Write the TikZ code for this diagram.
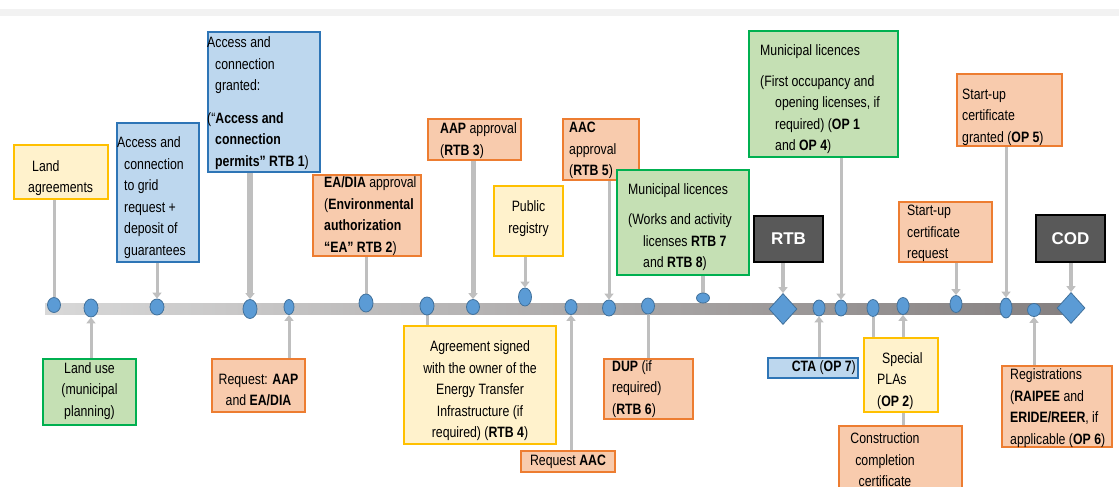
\documentclass[tikz,border=0pt]{standalone}
\usepackage{fontspec}
\setmainfont{Liberation Sans}[FakeStretch=0.82]
\newfontfamily\widefont{Liberation Sans}
\usetikzlibrary{shapes.geometric,arrows.meta}
\definecolor{yfill}{HTML}{FFF2CC}\definecolor{ydraw}{HTML}{FFC000}
\definecolor{bfill}{HTML}{BDD7EE}\definecolor{bdraw}{HTML}{2E75B6}
\definecolor{ofill}{HTML}{F8CBAD}\definecolor{odraw}{HTML}{ED7D31}
\definecolor{gfill}{HTML}{C5E0B4}\definecolor{gdraw}{HTML}{00B050}
\definecolor{dfill}{HTML}{595959}
\definecolor{mkf}{HTML}{5B9BD5}\definecolor{mkd}{HTML}{41719C}
\definecolor{barL}{HTML}{D8D8D8}\definecolor{barR}{HTML}{858080}
\definecolor{cgray}{HTML}{BFBFBF}
\pgfdeclarelayer{bg}
\pgfsetlayers{bg,main}
\begin{document}
\begin{tikzpicture}[x=1pt,y=-1pt,
  bx/.style={rectangle, line width=2.4pt, inner sep=0pt},
  yel/.style={bx, draw=ydraw, fill=yfill},
  blu/.style={bx, draw=bdraw, fill=bfill},
  ora/.style={bx, draw=odraw, fill=ofill},
  grn/.style={bx, draw=gdraw, fill=gfill},
  wh/.style 2 args={minimum width=#1pt, minimum height=#2pt},
  txt/.style={inner sep=0pt, text=black, font=\fontsize{15}{21.5}\selectfont},
  tl/.style={txt, anchor=west, align=left},
  tc/.style={txt, anchor=center, align=center},
  dark/.style={rectangle, draw=black, line width=2.4pt, fill=dfill, text=white,
               font=\widefont\bfseries\fontsize{17}{20}\selectfont},
  mk/.style 2 args={ellipse, draw=mkd, fill=mkf, line width=0.8pt, inner sep=0pt,
               minimum width=#1pt, minimum height=#2pt},
  dm/.style={diamond, draw=mkd, fill=mkf, line width=0.8pt, inner sep=0pt,
             minimum width=28pt, minimum height=31pt},
  conn/.style={draw=cgray, line width=3pt},
  arr/.style={-{Triangle[width=9pt,length=6pt]}}]
\useasboundingbox (0,0) rectangle (1119,487);
\clip (0,0) rectangle (1119,487);
\begin{pgfonlayer}{bg}
\fill[white] (0,0) rectangle (1119,487);
\fill[gray!10] (0,9) rectangle (1119,16);
\shade[left color=barL, right color=barR] (45,303) rectangle (1072,314);
\end{pgfonlayer}

% markers on the timeline
\node[mk={13}{15}] (c1) at (54,305) {};
\node[mk={14}{18}] (c2) at (91,308) {};
\node[mk={14}{16}] (c3) at (157,307) {};
\node[mk={14}{19}] (c4) at (250,309) {};
\node[mk={10}{15}] (c5) at (289,307) {};
\node[mk={14}{18}] (c6) at (366,303) {};
\node[mk={14}{18}] (c7) at (427,306) {};
\node[mk={13}{15}] (c8) at (473,307) {};
\node[mk={13}{18}] (c9) at (525,297) {};
\node[mk={12}{15}] (c10) at (571,307) {};
\node[mk={13}{16}] (c11) at (609,308) {};
\node[mk={13}{16}] (c12) at (648,306) {};
\node[mk={13}{10}] (c13) at (703,298) {};
\node[dm] (d1) at (783,309) {};
\node[mk={12}{16}] (c14) at (819,308) {};
\node[mk={12}{16}] (c15) at (841,308) {};
\node[mk={12}{17}] (c16) at (873,308) {};
\node[mk={12}{17}] (c17) at (903,306) {};
\node[mk={12}{17}] (c18) at (956,304) {};
\node[mk={12}{20}] (c19) at (1006,308) {};
\node[mk={13}{13}] (c20) at (1034,310) {};
\node[dm] (d2) at (1071,308) {};

% boxes above
\node[yel, wh={93.6}{53.6}] (landagr) at (61,172) {};
\node[tl] (landagr-t) at (28,178) {\hspace*{4pt}Land\\agreements};
\node[blu, wh={81.6}{138.6}] (accreq) at (158,192.5) {};
\node[tl] (accreq-t) at (117,197.5) {Access and\\\hspace*{7pt}connection\\\hspace*{7pt}to grid\\\hspace*{7pt}request +\\\hspace*{7pt}deposit of\\\hspace*{7pt}guarantees};
\node[blu, wh={111.6}{139.6}] (accgr) at (264,102) {};
\node[tl] (accgr-t) at (207,103) {Access and\\\hspace*{8pt}connection\\\hspace*{8pt}granted:\\[11pt](“\textbf{Access and}\\\hspace*{8pt}\textbf{connection}\\\hspace*{8pt}\textbf{permits”} \textbf{RTB 1})};
\node[ora, wh={107.6}{80.6}] (eadia) at (367,215.5) {};
\node[tl] (eadia-t) at (324,216) {\textbf{EA/DIA} approval\\(\textbf{Environmental}\\\textbf{authorization}\\\textbf{“EA” RTB 2})};
\node[ora, wh={92.6}{40.6}] (aap) at (474.5,139.5) {};
\node[tl] (aap-t) at (440,140.5) {\textbf{AAP} approval\\(\textbf{RTB 3})};
\node[yel, wh={68.6}{69.6}] (pubreg) at (528.5,221) {};
\node[tc] (pubreg-t) at (528.5,218.5) {Public\\registry};
\node[ora, wh={75.6}{60.6}] (aac) at (601,149.5) {};
\node[tl] (aac-t) at (569,150.5) {\textbf{AAC}\\approval\\(\textbf{RTB 5})};
\node[grn, wh={131.6}{104.6}] (munw) at (683,222.5) {};
\node[tl] (munw-t) at (628,227) {Municipal licences\\[9pt](Works and activity\\\hspace*{15pt}licenses \textbf{RTB 7}\\\hspace*{15pt}and \textbf{RTB 8})};
\node[dark, minimum width=69pt, minimum height=46pt] (rtb) at (788.5,239) {RTB};
\node[grn, wh={148.6}{125.6}] (munf) at (823.5,94) {};
\node[tl] (munf-t) at (760,99.5) {Municipal licences\\[9pt](First occupancy and\\\hspace*{15pt}opening licenses, if\\\hspace*{15pt}required) (\textbf{OP 1}\\\hspace*{15pt}and \textbf{OP 4})};
\node[ora, wh={92.6}{59.6}] (sureq) at (945.5,232) {};
\node[tl] (sureq-t) at (907,233.5) {Start-up\\certificate\\request};
\node[ora, wh={104.6}{71.6}] (sugr) at (1009.5,110) {};
\node[tl] (sugr-t) at (962,117) {Start-up\\certificate\\granted (\textbf{OP 5})};
\node[dark, minimum width=69pt, minimum height=47pt] (cod) at (1070.5,238.5) {COD};

% boxes below
\node[grn, wh={92.6}{65.6}] (landuse) at (89.5,392) {};
\node[tc] (landuse-t) at (89.5,391) {Land use\\(municipal\\planning)};
\node[ora, wh={92.6}{52.6}] (reqaap) at (258.5,385.5) {};
\node[tc] (reqaap-t) at (258.5,390) {Request: \textbf{AAP}\\and \textbf{EA/DIA}};
\node[yel, wh={151.6}{117.6}] (agree) at (480,385) {};
\node[tc] (agree-t) at (480,391) {Agreement signed\\with the owner of the\\Energy Transfer\\Infrastructure (if\\required) (\textbf{RTB 4})};
\node[ora, wh={93.6}{20.6}] (reqaac) at (568,461.5) {};
\node[tc] (reqaac-t) at (568,462) {Request \textbf{AAC}};
\node[ora, wh={88.6}{59.6}] (dup) at (648.5,389) {};
\node[tl] (dup-t) at (612,389) {\textbf{DUP} (if\\required)\\(\textbf{RTB 6})};
\node[blu, wh={89.6}{19.6}] (cta) at (813,368) {};
\node[txt, anchor=east] (cta-t) at (856,368) {\textbf{CTA} (\textbf{OP 7})};
\node[ora, wh={122.6}{66}] (constr) at (900.5,459) {};
\node[tc] (constr-t) at (885,460) {Construction\\completion\\certificate};
\node[yel, wh={73.6}{73.6}] (spla) at (901,375) {};
\node[tl] (spla-t) at (877,381) {\hspace*{5pt}Special\\PLAs\\(\textbf{OP 2})};
\node[ora, wh={109.6}{80.6}] (reg) at (1057,406.5) {};
\node[tl] (reg-t) at (1010,408) {Registrations\\(\textbf{RAIPEE} and\\\textbf{ERIDE/REER}, if\\applicable (\textbf{OP 6})};

% connectors
\begin{pgfonlayer}{bg}
\draw[conn] (c1 |- landagr.south) -- (c1);
\draw[conn,arr] (c3 |- accreq.south) -- (c3);
\draw[conn,arr,line width=5.5pt] (c4 |- accgr.south) -- (c4);
\draw[conn] (c6 |- eadia.south) -- (c6);
\draw[conn,arr,line width=5pt] (c8 |- aap.south) -- (c8);
\draw[conn,arr] (c9 |- pubreg.south) -- (c9);
\draw[conn,arr] (c11 |- aac.south) -- (c11);
\draw[conn,line width=4pt] (c13 |- munw.south) -- (c13);
\draw[conn,arr,line width=3.5pt] (d1 |- rtb.south) -- (d1);
\draw[conn,arr] (c15 |- munf.south) -- (c15);
\draw[conn,arr] (c18 |- sureq.south) -- (c18);
\draw[conn,arr] (c19 |- sugr.south) -- (c19);
\draw[conn,arr,line width=3.5pt] (d2 |- cod.south) -- (d2);
\draw[conn,arr] (c2 |- landuse.north) -- (c2);
\draw[conn,arr] (c5 |- reqaap.north) -- (c5);
\draw[conn] (c7) -- (c7 |- agree.north);
\draw[conn,arr] (c10 |- reqaac.north) -- (c10);
\draw[conn] (c12) -- (c12 |- dup.north);
\draw[conn,arr] (c14 |- cta.north) -- (c14);
\draw[conn] (c16) -- (c16 |- spla.north);
\draw[conn,arr] (c17 |- constr.north) -- (c17);
\draw[conn,arr] (c20 |- reg.north) -- (c20);
\end{pgfonlayer}
\end{tikzpicture}
\end{document}
